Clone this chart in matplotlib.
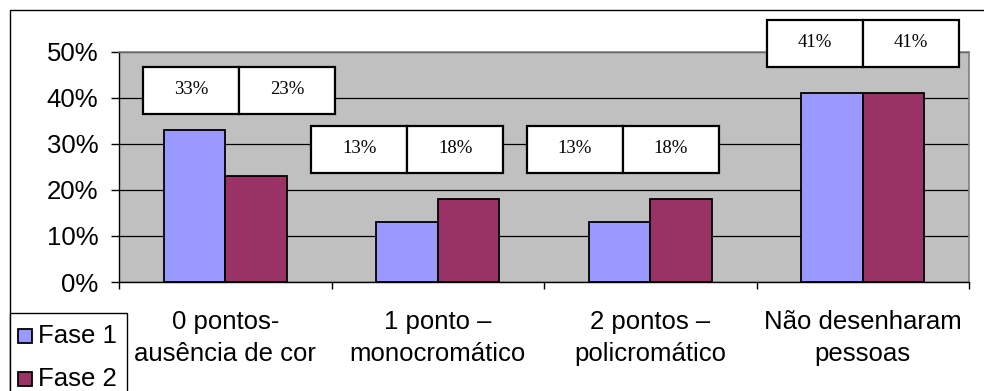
import matplotlib
matplotlib.use("Agg")
import matplotlib.pyplot as plt
from matplotlib.patches import Rectangle
from matplotlib.ticker import MultipleLocator, FuncFormatter
import numpy as np

categories = ["0 pontos-\nausência de cor", "1 ponto –\nmonocromático",
              "2 pontos –\npolicromático", "Não desenharam\npessoas"]
series_names = ["Fase 1", "Fase 2"]
fase1 = [33, 13, 13, 41]
fase2 = [23, 18, 18, 41]

colors = ["#9999FF", "#993366"]
plot_bg = "#C0C0C0"

W, H = 984, 391
plt.rcParams["font.family"] = ["Liberation Sans", "DejaVu Sans"]
fig = plt.figure(figsize=(W / 100, H / 100), dpi=100)

FS = 18.5


def px_box(x0, y0, x1, y1):
    return [x0 / W, 1 - y1 / H, (x1 - x0) / W, (y1 - y0) / H]


# outer chart frame (left and top edges visible)
fig.add_artist(Rectangle((10 / W, -0.05), 1.1, 1 - 10 / H + 0.05,
                         transform=fig.transFigure, fill=False,
                         edgecolor="black", linewidth=1.0))

ax = fig.add_axes(px_box(119, 52, 969, 282))
ax.set_facecolor(plot_bg)

x = np.arange(len(categories))
bw = 0.29
b1 = ax.bar(x - bw / 2, fase1, bw, color=colors[0], edgecolor="black",
            linewidth=1.3, zorder=3, label=series_names[0])
b2 = ax.bar(x + bw / 2, fase2, bw, color=colors[1], edgecolor="black",
            linewidth=1.3, zorder=3, label=series_names[1])

ax.set_xlim(-0.5, len(categories) - 0.5)
ax.set_ylim(0, 50)
ax.yaxis.set_major_locator(MultipleLocator(10))
ax.yaxis.set_major_formatter(FuncFormatter(lambda v, p: f"{v:.0f}%"))
ax.yaxis.grid(True, color="black", linewidth=0.9, zorder=1)
ax.set_axisbelow(True)

ax.set_xticks(x)
ax.set_xticklabels(categories, fontsize=FS, linespacing=1.45)
ax.set_xticks(np.arange(-0.5, len(categories)), minor=True)
ax.tick_params(axis="x", which="major", length=0, pad=20)
ax.tick_params(axis="x", which="minor", length=5, width=1, direction="out")
ax.tick_params(axis="y", length=6, width=1, pad=9, labelsize=FS)

for side in ["top", "right"]:
    ax.spines[side].set_color("#808080")
    ax.spines[side].set_linewidth(1.2)
for side in ["left", "bottom"]:
    ax.spines[side].set_color("black")
    ax.spines[side].set_linewidth(1.0)

# value boxes placed above each category
label_left = [-0.387, 0.404, 1.42, 2.55]
label_bottom = [36.5, 23.7, 23.7, 46.7]
cell_w = 0.452
cell_h = 10.3
for i in range(len(categories)):
    for j, vals in enumerate([fase1, fase2]):
        x0 = label_left[i] + j * cell_w
        ax.add_patch(Rectangle((x0, label_bottom[i]), cell_w, cell_h,
                               facecolor="white", edgecolor="black",
                               linewidth=1.6, zorder=5, clip_on=False))
        ax.text(x0 + cell_w / 2, label_bottom[i] + cell_h / 2 + 0.2,
                f"{vals[i]}%", ha="center", va="center", fontsize=13.5,
                family=["Liberation Serif", "DejaVu Serif"], zorder=6,
                clip_on=False)

# legend box at the lower left
fig.add_artist(Rectangle((10 / W, -0.05), 117 / W, (391 - 313) / H + 0.05,
                         transform=fig.transFigure, facecolor="white",
                         edgecolor="black", linewidth=1.0))
for k, (name, col) in enumerate(zip(series_names, colors)):
    cy = 336 + k * 43
    fig.add_artist(Rectangle((18 / W, 1 - (cy + 7) / H), 14 / W, 14 / H,
                             transform=fig.transFigure, facecolor=col,
                             edgecolor="black", linewidth=1.3))
    fig.text(38 / W, 1 - cy / H, name, ha="left", va="center",
             fontsize=FS)

fig.savefig("out.png", dpi=100)
